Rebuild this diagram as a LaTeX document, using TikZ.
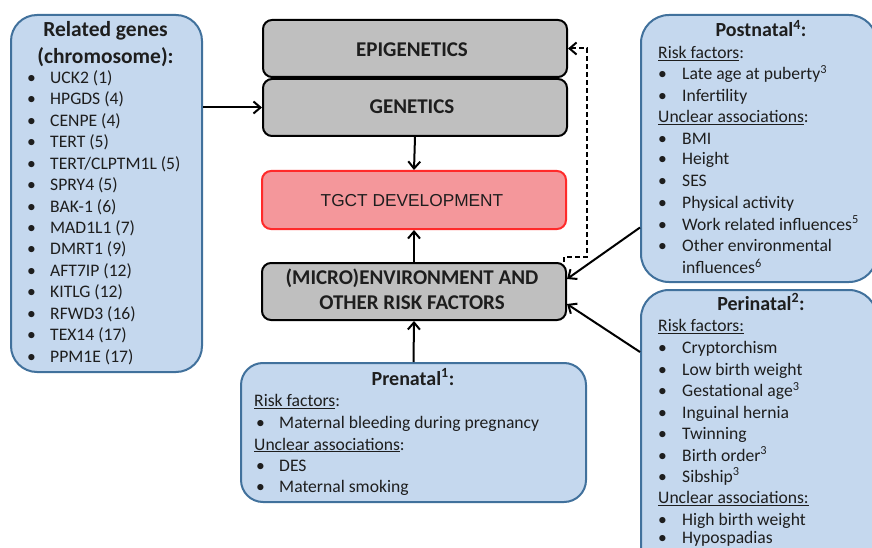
\documentclass[tikz,border=0pt]{standalone}
\usepackage{fontspec}
\setmainfont{Carlito}
\newfontfamily\arialf{Liberation Sans}
\usetikzlibrary{arrows.meta}
\definecolor{boxblue}{HTML}{C5D8EE}
\definecolor{boxedge}{HTML}{41719C}
\definecolor{graybox}{HTML}{BFBFBF}
\definecolor{pinkbox}{HTML}{F4979B}
\definecolor{rededge}{HTML}{FF2A2A}
\definecolor{txt}{HTML}{1E1E1E}
\begin{document}
\begin{tikzpicture}[x=1pt,y=-1pt,
  bluebox/.style={draw=boxedge,fill=boxblue,line width=2pt,inner sep=0pt,anchor=north west},
  greybox/.style={draw=black,fill=graybox,line width=2pt,rounded corners=9pt,inner sep=0pt,minimum width=304pt,minimum height=57pt,anchor=north west},
  body/.style={anchor=base west,inner sep=0pt,text=txt,font=\fontsize{17.6}{19}\selectfont},
  ttl/.style={anchor=base,inner sep=0pt,text=txt,font=\fontsize{20}{22}\selectfont\bfseries},
  boxtxt/.style={anchor=base,inner sep=0pt,text=txt,font=\fontsize{21}{23}\selectfont\bfseries},
  arr/.style={line width=2pt,-{Straight Barb[length=7pt,width=12pt,line width=2pt]}},
  darr/.style={arr,dash pattern=on 5pt off 3pt}]
\useasboundingbox (0,0) rectangle (872,548);
\fill[white] (0,0) rectangle (872,548);
\clip (0,0) rectangle (872,548);

% ---------- boxes ----------
\node[bluebox,rounded corners=26pt,minimum width=191pt,minimum height=357pt] (genes) at (10,14) {};
\node[greybox] (epi) at (262,19) {};
\node[greybox] (gen) at (262,78) {};
\node[greybox,draw=rededge,fill=pinkbox,minimum height=58pt] (tgct) at (261,170) {};
\node[greybox] (env) at (261,262) {};
\node[bluebox,rounded corners=22pt,minimum width=345pt,minimum height=139pt] (pre) at (240,362) {};
\node[bluebox,rounded corners=28pt,minimum width=236pt,minimum height=267pt] (post) at (640,14) {};
\node[bluebox,rounded corners=28pt,minimum width=236pt,minimum height=290pt] (peri) at (640,289) {};

% ---------- central texts ----------
\node[boxtxt] (epit) at (412,56.7) {EPIGENETICS};
\node[boxtxt] (gent) at (412,113.3) {GENETICS};
\node[anchor=base,inner sep=0pt,text=txt,font=\arialf\fontsize{17.3}{19}\selectfont] (tgctt) at (412,206.7) {TGCT DEVELOPMENT};
\node[boxtxt] (envt1) at (412,284) {(MICRO)ENVIRONMENT AND};
\node[boxtxt] (envt2) at (412,309) {OTHER RISK FACTORS};

% ---------- genes ----------
\node[ttl,font=\fontsize{21.5}{23}\selectfont\bfseries] (gtt1) at (105.5,36.7) {Related genes};
\node[ttl,font=\fontsize{21.5}{23}\selectfont\bfseries] (gtt2) at (105.5,64) {(chromosome):};
\foreach \t [count=\i from 0] in {UCK2 (1),HPGDS (4),CENPE (4),TERT (5),TERT/CLPTM1L (5),SPRY4 (5),BAK-1 (6),MAD1L1 (7),DMRT1 (9),AFT7IP (12),KITLG (12),RFWD3 (16),TEX14 (17),PPM1E (17)}{
  \node[body] (gb\i) at (27,83.3+21.45*\i) {\textbullet};
  \node[body] (gt\i) at (50,83.3+21.45*\i) {\t};
}

% ---------- prenatal ----------
\node[ttl] (prt) at (413,385) {Prenatal\textsuperscript{1}:};
\node[body] (pr1) at (254,406.7) {\underline{Risk factors}:};
\node[body] (prb1) at (256,428.3) {\textbullet};
\node[body] (prt1) at (279,428.3) {Maternal bleeding during pregnancy};
\node[body] (pr2) at (254,450) {\underline{Unclear associations}:};
\node[body] (prb2) at (256,471) {\textbullet};
\node[body] (prt2) at (279,471) {DES};
\node[body] (prb3) at (256,492.7) {\textbullet};
\node[body] (prt3) at (279,492.7) {Maternal smoking};

% ---------- postnatal ----------
\node[ttl] (pot) at (761,36.7) {Postnatal\textsuperscript{4}:};
\node[body] (po1) at (658,58.3) {\underline{Risk factors}:};
\node[body] (po2) at (658,122.7) {\underline{Unclear associations}:};
\foreach \t/\y [count=\i] in {{Late age at puberty\textsuperscript{3}}/80,Infertility/101.7,BMI/145,Height/165,SES/186.7,Physical activity/208.3,{Work related influences\textsuperscript{5}}/230,Other environmental/251.7}{
  \node[body] (pob\i) at (658,\y) {\textbullet};
  \node[body] (pot\i) at (682,\y) {\t};
}
\node[body] (pot9) at (682,273.3) {influences\textsuperscript{6}};

% ---------- perinatal ----------
\node[ttl] (pet) at (761,310) {Perinatal\textsuperscript{2}:};
\node[body] (pe1) at (658,331.7) {\underline{Risk factors:}};
\node[body] (pe2) at (658,503.7) {\underline{Unclear associations:}};
\foreach \t/\y [count=\i] in {Cryptorchism/353.3,Low birth weight/375,{Gestational age\textsuperscript{3}}/396.7,Inguinal hernia/418,Twinning/439.5,{Birth order\textsuperscript{3}}/461,{Sibship\textsuperscript{3}}/482,High birth weight/525,Hypospadias/543.5}{
  \node[body] (peb\i) at (658,\y) {\textbullet};
  \node[body] (pett\i) at (682,\y) {\t};
}

% ---------- connectors ----------
\draw[arr] (gen.west -| genes.east) -- (gen.west);
\draw[arr] (gen.south) -- (tgct.north);
\draw[arr] (env.north) -- (tgct.south);
\draw[arr] (pre.north) -- (env.south);
\draw[arr] ([yshift=-79pt]post.west) -- ([yshift=12.5pt]env.east);
\draw[arr] ([yshift=-63pt]peri.north west) -- ([yshift=-12.5pt]env.east);
\draw[darr] ([xshift=-3pt]env.north east) -- ++(0,-5) -| ([xshift=19pt]epi.east) -- (epi.east);
\end{tikzpicture}
\end{document}
